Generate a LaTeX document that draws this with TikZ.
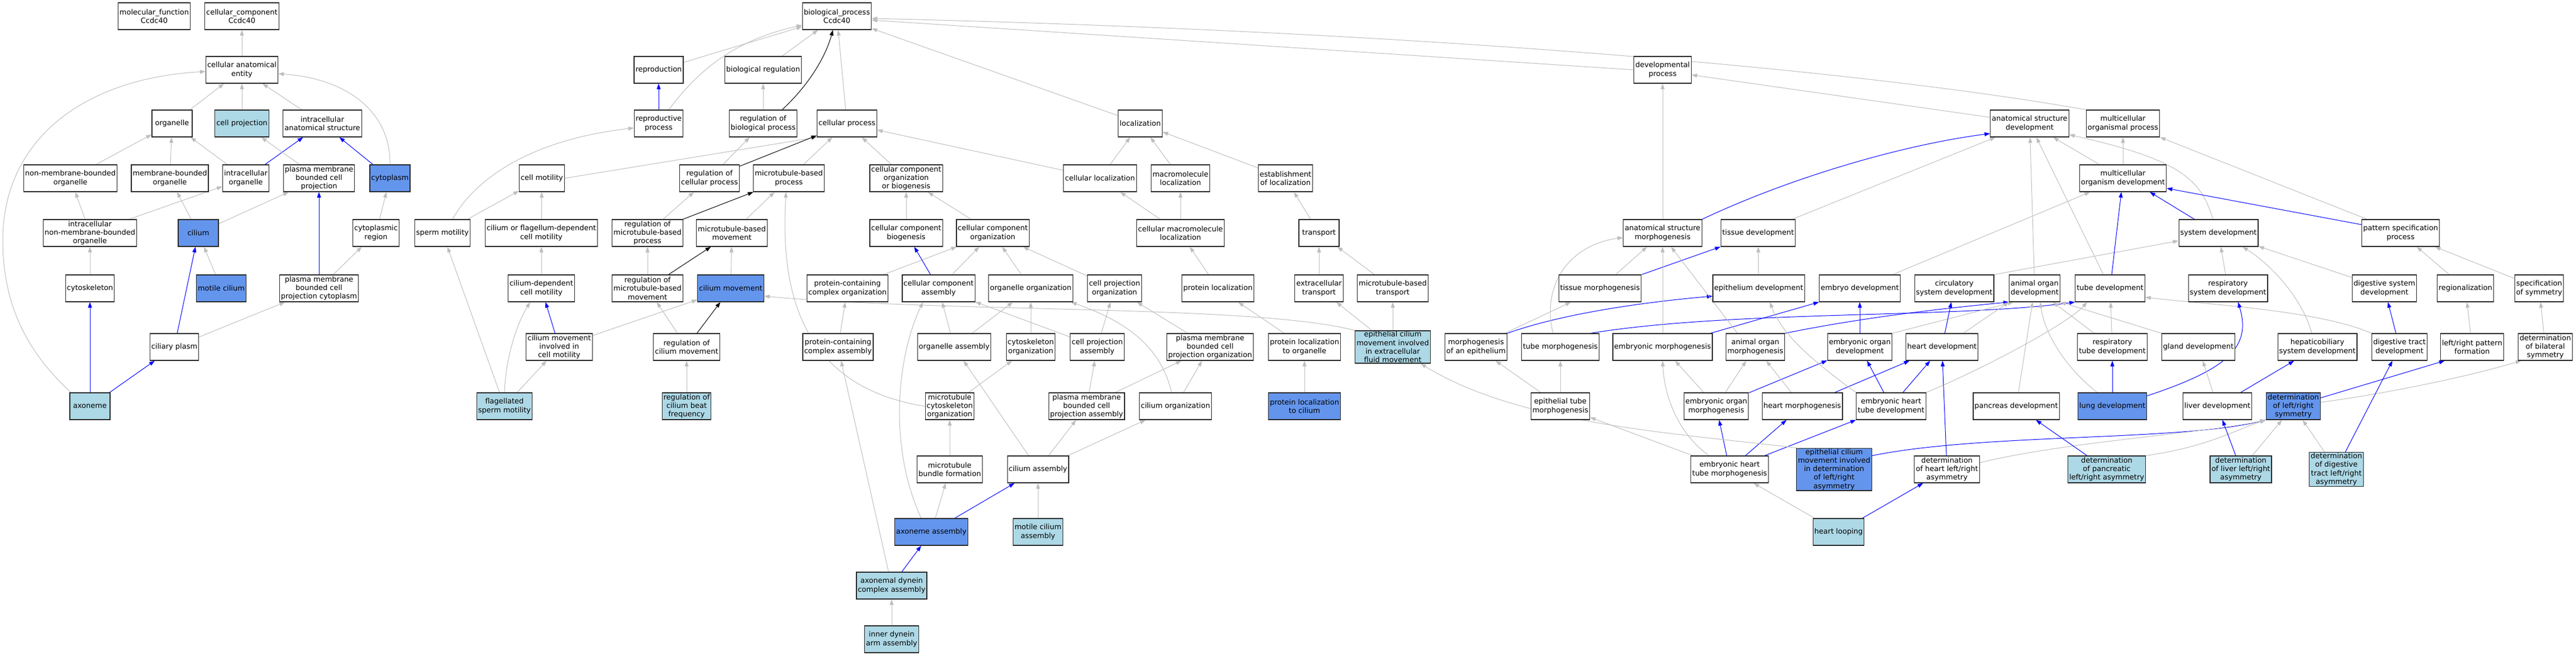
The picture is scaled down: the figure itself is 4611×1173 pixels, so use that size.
\documentclass[tikz,border=0pt]{standalone}
\usepackage{fontspec}
\setmainfont{DejaVu Sans}
\usetikzlibrary{arrows.meta,backgrounds}
\definecolor{hiblue}{HTML}{6495ED}
\definecolor{loblue}{HTML}{ADD8E6}
\definecolor{isagrey}{HTML}{BEBEBE}
\begin{document}
\begin{tikzpicture}[x=1pt,y=1pt,
  term/.style={draw=black!85,line width=1.2pt,fill=white,minimum width=72pt,minimum height=48pt,inner xsep=2.5pt,inner ysep=1pt,align=center,font=\fontsize{13}{15.3}\selectfont},
  hit/.style={term,fill=hiblue},
  leaf/.style={term,fill=loblue},
  isa/.style={draw=isagrey,line width=1pt,-{Triangle[length=10pt,width=7pt]}},
  partof/.style={isa,draw=blue},
  regs/.style={isa,draw=black}]
\useasboundingbox (0,0) rectangle (4611,-1173);
% cellular component
\node[term] (mf) at (276,-29) {molecular\_function\\Ccdc40};
\node[term] (cc) at (433,-29) {cellular\_component\\Ccdc40};
\node[term] (cae) at (433,-125) {cellular anatomical\\entity};
\node[term] (org) at (308,-221) {organelle};
\node[leaf] (cproj) at (433,-221) {cell projection};
\node[term] (ias) at (577,-221) {intracellular\\anatomical structure};
\node[term] (nmbo) at (126,-319) {non-membrane-bounded\\organelle};
\node[term] (mbo) at (304,-319) {membrane-bounded\\organelle};
\node[term] (io) at (440,-319) {intracellular\\organelle};
\node[term] (pmbcp) at (571,-319) {plasma membrane\\bounded cell\\projection};
\node[hit] (cyto) at (698,-319) {cytoplasm};
\node[term] (inmbo) at (161,-417) {intracellular\\non-membrane-bounded\\organelle};
\node[hit] (cil) at (355,-417) {cilium};
\node[term] (cytreg) at (673,-417) {cytoplasmic\\region};
\node[term] (cysk) at (161,-516) {cytoskeleton};
\node[hit] (mcil) at (396,-516) {motile cilium};
\node[term] (pmbcpc) at (571,-516) {plasma membrane\\bounded cell\\projection cytoplasm};
\node[term] (cplasm) at (312,-621) {ciliary plasm};
\node[leaf] (axon) at (161,-727) {axoneme};
% biological process
\node[term] (bp) at (1498,-29) {biological\_process\\Ccdc40};
\node[term] (repro) at (1179,-125) {reproduction};
\node[term] (breg) at (1366,-125) {biological regulation};
\node[term] (rproc) at (1179,-221) {reproductive\\process};
\node[term] (rbp) at (1366,-221) {regulation of\\biological process};
\node[term] (cellp) at (1516,-221) {cellular process};
\node[term] (loc) at (2041,-221) {localization};
\node[term] (cmot) at (970,-319) {cell motility};
\node[term] (rcp) at (1270,-319) {regulation of\\cellular process};
\node[term] (mtbp) at (1412,-319) {microtubule-based\\process};
\node[term] (ccob) at (1622,-319) {cellular component\\organization\\or biogenesis};
\node[term] (cloc) at (1969,-319) {cellular localization};
\node[term] (mloc) at (2113,-319) {macromolecule\\localization};
\node[term] (eloc) at (2301,-319) {establishment\\of localization};
\node[term] (smot) at (792,-417) {sperm motility};
\node[term] (cfmot) at (969,-417) {cilium or flagellum-dependent\\cell motility};
\node[term] (rmtbp) at (1159,-417) {regulation of\\microtubule-based\\process};
\node[term] (mtbm) at (1310,-417) {microtubule-based\\movement};
\node[term] (ccb) at (1622,-417) {cellular component\\biogenesis};
\node[term] (cco) at (1777,-417) {cellular component\\organization};
\node[term] (cmloc) at (2113,-417) {cellular macromolecule\\localization};
\node[term] (trans) at (2361,-417) {transport};
\node[term] (cdmot) at (969,-516) {cilium-dependent\\cell motility};
\node[term] (rmtbm) at (1159,-516) {regulation of\\microtubule-based\\movement};
\node[hit] (cmov) at (1308,-516) {cilium movement};
\node[term] (pcco) at (1517,-516) {protein-containing\\complex organization};
\node[term] (cca) at (1680,-516) {cellular component\\assembly};
\node[term] (oorg) at (1845,-516) {organelle organization};
\node[term] (cpo) at (1995,-516) {cell projection\\organization};
\node[term] (ploc) at (2180,-516) {protein localization};
\node[term] (etrans) at (2361,-516) {extracellular\\transport};
\node[term] (mtbt) at (2493,-516) {microtubule-based\\transport};
\node[term] (cmcm) at (1001,-621) {cilium movement\\involved in\\cell motility};
\node[term] (rcm) at (1229,-621) {regulation of\\cilium movement};
\node[term] (pcca) at (1500,-621) {protein-containing\\complex assembly};
\node[term] (oasm) at (1708,-621) {organelle assembly};
\node[term] (csko) at (1845,-621) {cytoskeleton\\organization};
\node[term] (cpa) at (1964,-621) {cell projection\\assembly};
\node[term] (pmbcpo) at (2166,-621) {plasma membrane\\bounded cell\\projection organization};
\node[term] (plorg) at (2335,-621) {protein localization\\to organelle};
\node[leaf] (ecfm) at (2493,-621) {epithelial cilium\\movement involved\\in extracellular\\fluid movement};
\node[leaf] (fsm) at (903,-727) {flagellated\\sperm motility};
\node[leaf] (rcbf) at (1229,-727) {regulation of\\cilium beat\\frequency};
\node[term] (mtco) at (1700,-727) {microtubule\\cytoskeleton\\organization};
\node[term] (pmbcpa) at (1945,-727) {plasma membrane\\bounded cell\\projection assembly};
\node[term] (corg) at (2104,-727) {cilium organization};
\node[hit] (plcil) at (2335,-727) {protein localization\\to cilium};
\node[term] (mtbf) at (1700,-840) {microtubule\\bundle formation};
\node[term] (casm) at (1858,-840) {cilium assembly};
\node[hit] (axasm) at (1667,-952) {axoneme assembly};
\node[leaf] (mcasm) at (1858,-952) {motile cilium\\assembly};
\node[leaf] (adca) at (1596,-1048) {axonemal dynein\\complex assembly};
\node[leaf] (ida) at (1596,-1144) {inner dynein\\arm assembly};
% development
\node[term] (dev) at (2976,-125) {developmental\\process};
\node[term] (asd) at (3633,-221) {anatomical structure\\development};
\node[term] (mop) at (3800,-221) {multicellular\\organismal process};
\node[term] (mod) at (3800,-319) {multicellular\\organism development};
\node[term] (asm) at (2976,-417) {anatomical structure\\morphogenesis};
\node[term] (tisd) at (3147,-417) {tissue development};
\node[term] (sysd) at (3971,-417) {system development};
\node[term] (psp) at (4297,-417) {pattern specification\\process};
\node[term] (tism) at (2864,-516) {tissue morphogenesis};
\node[term] (epid) at (3148,-516) {epithelium development};
\node[term] (embd) at (3329,-516) {embryo development};
\node[term] (circd) at (3498,-516) {circulatory\\system development};
\node[term] (aod) at (3642,-516) {animal organ\\development};
\node[term] (tubd) at (3777,-516) {tube development};
\node[term] (resd) at (3988,-516) {respiratory\\system development};
\node[term] (digsd) at (4268,-516) {digestive system\\development};
\node[term] (regz) at (4413,-516) {regionalization};
\node[term] (specs) at (4545,-516) {specification\\of symmetry};
\node[term] (moe) at (2642,-621) {morphogenesis\\of an epithelium};
\node[term] (tubm) at (2793,-621) {tube morphogenesis};
\node[term] (embm) at (2976,-621) {embryonic morphogenesis};
\node[term] (aom) at (3142,-621) {animal organ\\morphogenesis};
\node[term] (eod) at (3329,-621) {embryonic organ\\development};
\node[term] (heartd) at (3476,-621) {heart development};
\node[term] (rtd) at (3781,-621) {respiratory\\tube development};
\node[term] (glandd) at (3935,-621) {gland development};
\node[term] (hsd) at (4148,-621) {hepaticobiliary\\system development};
\node[term] (dtd) at (4295,-621) {digestive tract\\development};
\node[term] (lrpf) at (4425,-621) {left/right pattern\\formation};
\node[term] (dbs) at (4556,-621) {determination\\of bilateral\\symmetry};
\node[term] (etm) at (2793,-727) {epithelial tube\\morphogenesis};
\node[term] (eom) at (3072,-727) {embryonic organ\\morphogenesis};
\node[term] (heartm) at (3226,-727) {heart morphogenesis};
\node[term] (ehtd) at (3385,-727) {embryonic heart\\tube development};
\node[term] (pancd) at (3609,-727) {pancreas development};
\node[hit] (lungd) at (3781,-727) {lung development};
\node[term] (liverd) at (3969,-727) {liver development};
\node[hit] (dlrs) at (4105,-727) {determination\\of left/right\\symmetry};
\node[term] (ehtm) at (3096,-840) {embryonic heart\\tube morphogenesis};
\node[hit] (ecmd) at (3283,-840) {epithelial cilium\\movement involved\\in determination\\of left/right\\asymmetry};
\node[term] (dhlr) at (3485,-840) {determination\\of heart left/right\\asymmetry};
\node[leaf] (dplr) at (3771,-840) {determination\\of pancreatic\\left/right asymmetry};
\node[leaf] (dllr) at (4011,-840) {determination\\of liver left/right\\asymmetry};
\node[leaf] (ddtlr) at (4182,-840) {determination\\of digestive\\tract left/right\\asymmetry};
\node[leaf] (hloop) at (3291,-952) {heart looping};
\begin{pgfonlayer}{background}
\fill[white] (0,0) rectangle (4611,-1173);
% cellular component edges
\draw[isa] (cae) -- (cc);
\draw[isa] (org) -- (cae);
\draw[isa] (cproj) -- (cae);
\draw[isa] (ias) -- (cae);
\draw[isa] (cyto.north) .. controls (700,-200) and (620,-140) .. ([yshift=-7pt]cae.east);
\draw[isa] ([xshift=-34pt]axon.north) .. controls (60,-640) and (5,-560) .. (5,-430) .. controls (5,-250) and (150,-140) .. ([yshift=-3pt]cae.west);
\draw[isa] (nmbo) -- (org);
\draw[isa] (mbo) -- (org);
\draw[isa] (io) -- (org);
\draw[partof] (io) -- (ias);
\draw[isa] (pmbcp) -- (cproj);
\draw[partof] (cyto) -- (ias);
\draw[isa] (inmbo) -- (nmbo);
\draw[isa] (inmbo) -- (io);
\draw[isa] (cil) -- (mbo);
\draw[isa] (cil) -- (pmbcp);
\draw[isa] (cytreg) -- (cyto);
\draw[isa] (cysk) -- (inmbo);
\draw[isa] (mcil) -- (cil);
\draw[partof] (pmbcpc) -- (pmbcp);
\draw[isa] (pmbcpc) -- (cytreg);
\draw[partof] (cplasm) -- (cil);
\draw[isa] (cplasm) -- (pmbcpc);
\draw[partof] (axon) -- (cysk);
\draw[partof] (axon) -- (cplasm);
% biological process edges
\draw[isa] (repro) -- (bp);
\draw[partof] (rproc) -- (repro);
\draw[isa] ([xshift=18pt]rproc.north) .. controls (1240,-140) and (1300,-75) .. ([yshift=-16pt]bp.west);
\draw[isa] (breg) -- (bp);
\draw[isa] (rbp) -- (breg);
\draw[regs] ([xshift=34pt]rbp.north) .. controls (1450,-150) and (1478,-100) .. ([xshift=-7pt]bp.south);
\draw[isa] (cellp) -- (bp);
\draw[isa] (cmot.east) -- (cellp.south west);
\draw[isa] (rcp) -- (rbp);
\draw[regs] (rcp) -- (cellp);
\draw[isa] (mtbp) -- (cellp);
\draw[isa] ([xshift=18pt]smot.north) .. controls (850,-320) and (950,-250) .. ([yshift=-8pt]rproc.west);
\draw[isa] (smot) -- (cmot);
\draw[isa] (cfmot) -- (cmot);
\draw[isa] (rmtbp) -- (rcp);
\draw[regs] (rmtbp) -- (mtbp);
\draw[isa] (mtbm) -- (mtbp);
\draw[isa] (cdmot) -- (cfmot);
\draw[isa] (rmtbm) -- (rmtbp);
\draw[regs] (rmtbm) -- (mtbm);
\draw[isa] (cmov) -- (mtbm);
\draw[partof] (cmcm) -- (cdmot);
\draw[isa] (cmcm) -- (cmov);
\draw[isa] (rcm) -- (rmtbm);
\draw[regs] (rcm) -- (cmov);
\draw[isa] (fsm) -- (smot);
\draw[isa] (fsm.north) .. controls (905,-640) and (925,-580) .. ([xshift=-20pt]cdmot.south);
\draw[isa] (fsm) -- (cmcm);
\draw[isa] (rcbf) -- (rcm);
\draw[isa] (mtco.west) .. controls (1420,-690) and (1398,-500) .. ([xshift=-5pt]mtbp.south);
\draw[isa] (loc) -- (bp);
\draw[isa] (ccob) -- (cellp);
\draw[isa] (cloc) -- (cellp);
\draw[isa] (cloc) -- (loc);
\draw[isa] (mloc) -- (loc);
\draw[isa] (eloc) -- (loc);
\draw[isa] (ccb) -- (ccob);
\draw[isa] (cco) -- (ccob);
\draw[isa] (cmloc) -- (cloc);
\draw[isa] (cmloc) -- (mloc);
\draw[isa] (pcco) -- (cco);
\draw[isa] (cca) -- (cco);
\draw[partof] (cca) -- (ccb);
\draw[isa] (oorg) -- (cco);
\draw[isa] (cpo) -- (cco);
\draw[isa] (ploc) -- (cmloc);
\draw[isa] (trans) -- (eloc);
\draw[isa] (pcca) -- (pcco);
\draw[isa] (oasm) -- (cca);
\draw[isa] (oasm) -- (oorg);
\draw[isa] (csko) -- (oorg);
\draw[isa] (cpa) -- (cca);
\draw[isa] (cpa) -- (cpo);
\draw[isa] (pmbcpo) -- (cpo);
\draw[isa] (plorg) -- (ploc);
\draw[isa] (etrans) -- (trans);
\draw[isa] (mtbt) -- (trans);
\draw[isa] (ecfm) -- (etrans);
\draw[isa] (ecfm) -- (mtbt);
\draw[isa] (ecfm.north west) .. controls (2250,-545) and (1700,-560) .. ([yshift=-14pt]cmov.east);
\draw[isa] (mtco) -- (csko);
\draw[isa] (pmbcpa) -- (cpa);
\draw[isa] (pmbcpa) -- (pmbcpo);
\draw[isa] (corg) -- (pmbcpo);
\draw[isa] ([xshift=-7pt]corg.north) .. controls (2080,-630) and (2030,-580) .. ([xshift=-4pt]oorg.south east);
\draw[isa] (plcil) -- (plorg);
\draw[isa] (mtbf) -- (mtco);
\draw[isa] (casm) -- (oasm);
\draw[isa] (casm) -- (pmbcpa);
\draw[isa] (casm) -- (corg);
\draw[isa] (axasm) -- (mtbf);
\draw[partof] (axasm) -- (casm);
\draw[isa] ([xshift=-18pt]axasm.north) .. controls (1590,-800) and (1605,-640) .. ([xshift=-28pt]cca.south);
\draw[isa] (mcasm) -- (casm);
\draw[partof] (adca) -- (axasm);
\draw[isa] (adca) -- (pcca);
\draw[isa] (ida) -- (adca);
% development edges
\draw[isa] (dev.west) -- ([yshift=-7pt]bp.east);
\draw[isa] (mop.north west) .. controls (3300,-120) and (2500,-55) .. ([yshift=-4pt]bp.east);
\draw[isa] ([yshift=11pt]asd.west) -- ([yshift=-9pt]dev.east);
\draw[isa] (mod) -- (asd);
\draw[isa] (mod) -- (mop);
\draw[isa] (asm) -- (dev);
\draw[partof] (asm.north east) .. controls (3200,-320) and (3400,-260) .. ([yshift=-18pt]asd.west);
\draw[isa] (tisd) -- (asd);
\draw[isa] ([xshift=-10pt]sysd.north) .. controls (3940,-320) and (3900,-285) .. ([yshift=-20pt]asd.east);
\draw[partof] ([xshift=-43pt]sysd.north) -- ([xshift=48pt]mod.south);
\draw[partof] ([yshift=15pt]psp.west) -- ([yshift=-18pt]mod.east);
\draw[isa] ([xshift=10pt]psp.north west) -- (mop.south east);
\draw[isa] (tism) -- (asm);
\draw[partof] (tism.north east) -- (tisd.south west);
\draw[isa] (epid) -- (tisd);
\draw[isa] (embd) -- (mod);
\draw[isa] (circd.north east) -- ([yshift=-14pt]sysd.west);
\draw[isa] (aod) -- (asd);
\draw[isa] (tubd) -- (asd);
\draw[partof] (tubd) -- (mod);
\draw[isa] (resd) -- (sysd);
\draw[isa] (digsd) -- (sysd);
\draw[isa] (regz) -- (psp);
\draw[isa] (specs) -- (psp);
\draw[isa] (moe) -- (tism);
\draw[partof] (moe.north east) .. controls (2800,-560) and (2950,-540) .. ([yshift=-14pt]epid.west);
\draw[isa] ([xshift=-13pt]tubm.north) .. controls (2760,-520) and (2800,-440) .. ([yshift=-8pt]asm.west);
\draw[partof] ([xshift=54pt]tubm.north) .. controls (3100,-555) and (3500,-570) .. (tubd.south west);
\draw[isa] (embm) -- (asm);
\draw[partof] (embm) -- (embd.south west);
\draw[isa] ([xshift=-32pt]aom.north) -- ([xshift=15pt]asm.south);
\draw[partof] (aom.north east) .. controls (3350,-565) and (3500,-550) .. (aod.south west);
\draw[partof] (eod) -- (embd);
\draw[isa] (eod.north east) -- ([xshift=-38pt]aod.south);
\draw[partof] (heartd) -- (circd);
\draw[isa] ([xshift=38pt]heartd.north) -- (aod.south west);
\draw[isa] (rtd) -- (tubd);
\draw[isa] (rtd) -- (aod);
\draw[isa] (glandd.north west) -- (aod.south east);
\draw[isa] ([xshift=-10pt]hsd.north) .. controls (4120,-530) and (4060,-470) .. ([xshift=43pt]sysd.south);
\draw[partof] (dtd) -- (digsd);
\draw[isa] (dtd.north west) .. controls (4150,-555) and (3950,-545) .. ([yshift=-16pt]tubd.east);
\draw[isa] (lrpf) -- (regz);
\draw[isa] (dbs) -- (specs);
\draw[isa] (etm) -- (moe);
\draw[isa] (etm) -- (tubm);
\draw[isa] (eom) -- (embm);
\draw[isa] (eom) -- (aom);
\draw[partof] (eom) -- (eod);
\draw[isa] (heartm) -- (aom);
\draw[partof] (heartm) -- (heartd);
\draw[partof] (ehtd) -- (eod);
\draw[partof] (ehtd) -- (heartd);
\draw[isa] (ehtd.north east) .. controls (3550,-660) and (3700,-580) .. ([xshift=22pt]tubd.south west);
\draw[isa] (ehtd.north west) .. controls (3250,-650) and (3190,-600) .. ([xshift=20pt]epid.south);
\draw[isa] (pancd) -- (aod);
\draw[partof] (lungd) -- (rtd);
\draw[partof] ([yshift=-6pt]lungd.north east) .. controls (3990,-660) and (4030,-620) .. ([xshift=18pt]resd.south);
\draw[isa] ([xshift=-27pt]lungd.north) .. controls (3700,-660) and (3660,-600) .. ([xshift=10pt]aod.south);
\draw[isa] (liverd) -- (glandd);
\draw[partof] (liverd) -- (hsd);
\draw[partof] ([yshift=15pt]dlrs.east) -- ([xshift=8pt]lrpf.south west);
\draw[isa] ([yshift=7pt]dlrs.east) .. controls (4300,-700) and (4430,-670) .. ([xshift=6pt]dbs.south west);
\draw[partof] (ehtm) -- (eom);
\draw[partof] (ehtm) -- (heartm);
\draw[partof] (ehtm) -- (ehtd);
\draw[isa] ([xshift=-37pt]ehtm.north) .. controls (3010,-780) and (2980,-720) .. (embm.south);
\draw[isa] (ehtm) -- (etm);
\draw[isa] (ecmd.north west) .. controls (3000,-775) and (2720,-760) .. ([xshift=-18pt]ecfm.south east);
\draw[partof] ([yshift=-14pt]ecmd.north east) .. controls (3550,-775) and (3900,-790) .. (dlrs.south west);
\draw[partof] (dhlr) -- (heartd);
\draw[isa] ([yshift=12pt]dhlr.east) .. controls (3700,-790) and (3950,-775) .. (dlrs.south west);
\draw[partof] (dplr) -- (pancd);
\draw[isa] (dplr.north east) .. controls (3950,-800) and (4000,-770) .. (dlrs.south west);
\draw[partof] (dllr) -- (liverd);
\draw[isa] (dllr) -- (dlrs);
\draw[isa] (ddtlr) -- (dlrs);
\draw[partof] (ddtlr) -- (dtd);
\draw[isa] (hloop) -- (ehtm);
\draw[partof] (hloop) -- (dhlr);
\end{pgfonlayer}
\end{tikzpicture}
\end{document}
